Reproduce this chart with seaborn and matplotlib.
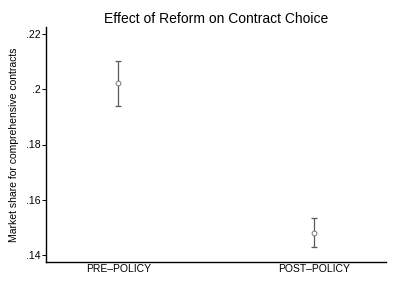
import matplotlib
matplotlib.use("Agg")
import matplotlib.pyplot as plt
import seaborn as sns
import pandas as pd

categories = ["PRE\u2013POLICY", "POST\u2013POLICY"]
share = [0.2022, 0.1481]
ci_low = [0.1940, 0.1429]
ci_high = [0.2103, 0.1533]
yticks = [0.14, 0.16, 0.18, 0.20, 0.22]
ytick_labels = [".14", ".16", ".18", ".2", ".22"]

sns.set_theme(style="white")
plt.rcParams["font.family"] = ["Liberation Sans", "DejaVu Sans"]
plt.rcParams["text.color"] = "black"
plt.rcParams["axes.labelcolor"] = "black"
plt.rcParams["xtick.color"] = "black"
plt.rcParams["ytick.color"] = "black"

df = pd.DataFrame({"period": categories, "share": share,
                   "lo": ci_low, "hi": ci_high})

fig = plt.figure(figsize=(3.96, 2.88), dpi=100)
ax = fig.add_axes([46/396, 1-262/288, 340/396, 235/288])

yerr = [[s - l for s, l in zip(df["share"], df["lo"])],
        [h - s for s, h in zip(df["share"], df["hi"])]]
ax.errorbar(df["period"], df["share"], yerr=yerr, fmt="none",
            ecolor="#5a5a5a", elinewidth=0.9, capsize=2.5, capthick=0.9, zorder=2)
sns.scatterplot(data=df, x="period", y="share", ax=ax, marker="o", s=12,
                facecolor="white", edgecolor="#777777", linewidth=0.7, zorder=3,
                legend=False)

ax.set_xlim(-0.37, 1.37)
ax.set_ylim(0.1375, 0.2225)
ax.set_yticks(yticks)
ax.set_yticklabels(ytick_labels)
ax.set_xlabel("")
ax.set_ylabel("Market share for comprehensive contracts", fontsize=7.5,
              labelpad=5, color="black")
ax.set_title("Effect of Reform on Contract Choice", fontsize=10, pad=3,
             color="black")

for side in ["top", "right"]:
    ax.spines[side].set_visible(False)
for side in ["left", "bottom"]:
    ax.spines[side].set_color("black")
    ax.spines[side].set_linewidth(1.0)

ax.tick_params(axis="y", which="major", left=True, length=3, width=0.7,
               color="black", labelsize=7.5, pad=1, labelcolor="black")
ax.tick_params(axis="x", which="major", bottom=False, length=0, labelsize=7.5,
               pad=1.5, labelcolor="black")

fig.savefig("out.png", dpi=100, facecolor="white")
